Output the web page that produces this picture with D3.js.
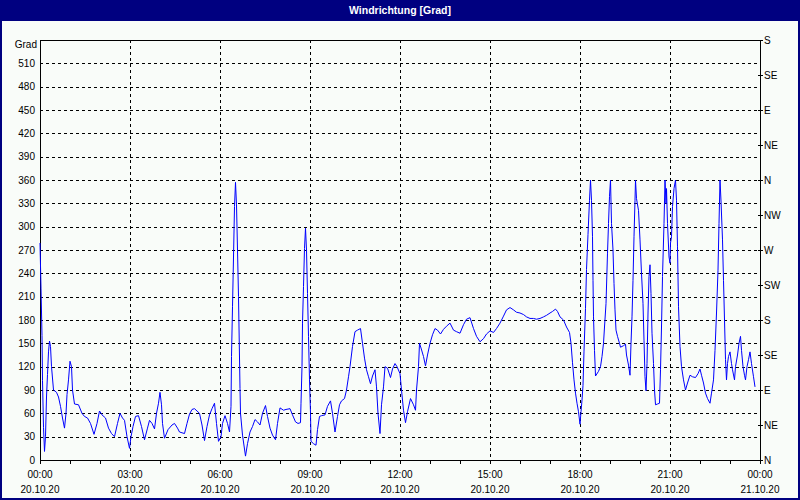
<!DOCTYPE html>
<html><head><meta charset="utf-8">
<script src="https://cdn.jsdelivr.net/npm/d3@7"></script>
<style>
body{margin:0;background:#fff}
svg{display:block}
text{font-family:"Liberation Sans",Arial,sans-serif;font-size:10px;fill:#000}
</style>
</head><body>
<svg id="chart" width="800" height="500"></svg>
<script>
// ---- data ----
const chartTitle = "Windrichtung [Grad]";
const unitLabel = "Grad";
const minutes = [
0,2,4,5,7,9,11,13,15,17,19,21,23,27,33,37,41,45,49,52,54,57,60,63,65,69,77,84,89,95,101,108,114,119,124,131,137,143,149,155,160,165,169,174,179,182,186,191,197,203,209,215,219,224,229,233,237,240,243,245,249,256,264,269,275,279,289,294,299,304,309,319,324,329,334,339,344,349,353,357,
362,365,370,375,379,382,383,385,387,389,391,393,395,397,400,401,405,411,415,420,425,430,435,440,445,451,455,460,465,471,475,480,487,492,500,505,511,516,521,522,524,525,527,529,531,533,535,537,539,541,542,547,552,555,559,563,570,575,581,585,590,595,599,603,609,613,617,620,625,630,635,641,645,649,653,657,661,665,670,673,676,680,683,687,690,695,701,705,710,714,
720,723,727,731,735,741,747,751,753,757,759,762,767,771,775,780,785,790,795,801,807,813,820,827,833,840,847,853,860,867,873,880,887,893,900,907,913,920,927,933,940,947,953,960,967,973,980,987,993,1000,1007,1013,1020,1025,1031,1035,1040,1047,1053,1059,
1062,1065,1068,1071,1074,1077,1080,1082,1084,1086,1088,1091,1093,1096,1099,1101,1103,1105,1106,1107,1109,1111,1117,1121,1124,1127,1129,1132,1135,1137,1139,1141,1143,1146,1148,1150,1152,1155,1159,1161,1167,1171,1173,1177,1180,1182,1184,1186,1188,1190,1191,1193,1197,1200,1203,1206,1208,1210,1212,1214,1216,1218,1220,1222,1224,1227,1229,1231,1235,1239,1241,1243,1245,1248,1250,1252,1253,1255,1258,1260,1261,1263,1265,1268,1271,1273,1275,1277,1280,1283,1287,1291,1295,1300,1305,1311,1316,1320,1323,1327,1331,1335,1340,1343,1347,1350,1353,1356,1358,1360,1362,1365,1367,1369,1371,1373,1375,1377,1380,1383,1385,1389,1391,1395,1398,1401,1403,1406,1409,1411,1414,1417,1420,1423,1427,1430
];
const degrees = [
279,221,160,102,42,11,30,81,110,139,153,146,120,90,87,81,69,54,41,60,84,103,127,120,90,72,71,60,56,54,47,33,47,63,58,54,41,34,30,47,60,54,51,30,15,30,43,56,57,43,26,41,51,47,40,60,73,87,71,47,28,39,45,47,41,36,34,47,59,65,66,60,45,25,43,58,66,73,47,24,
30,47,57,47,36,69,133,197,261,326,357,328,270,210,92,60,32,5,21,36,43,52,49,45,60,70,56,41,32,26,47,67,64,65,66,58,49,47,48,73,120,176,223,272,298,270,214,159,103,60,24,21,19,39,56,57,58,69,76,60,36,56,71,76,79,90,107,120,146,165,167,169,150,131,116,107,98,108,116,94,60,34,71,94,120,118,106,117,124,120,
111,90,64,48,62,79,71,64,90,120,150,144,133,121,135,150,161,169,167,162,168,172,176,167,165,163,174,181,183,169,159,152,156,162,166,164,169,176,185,193,196,193,190,189,187,184,182,182,181,182,184,186,189,191,194,191,184,180,171,164,
150,125,103,86,73,62,46,62,77,96,140,195,245,290,334,360,334,287,231,184,141,108,114,120,133,150,171,201,266,304,339,360,304,270,227,193,167,159,150,145,147,149,135,122,109,150,184,231,287,334,360,336,321,283,240,201,154,107,89,124,189,236,251,214,163,124,90,71,72,73,116,171,236,304,360,330,349,304,261,253,279,287,326,349,360,334,274,197,146,120,103,90,99,109,107,106,111,117,109,99,86,79,73,86,103,141,189,244,304,360,333,283,231,180,129,103,124,133,139,124,116,103,120,135,150,159,141,120,109,103,120,129,139,124,107,94
];
const degreeTicks = [0,30,60,90,120,150,180,210,240,270,300,330,360,390,420,450,480,510];
const compassTicks = [0,45,90,135,180,225,270,315,360,405,450,495,540];
const compassLabels = ["N","NE","E","SE","S","SW","W","NW","N","NE","E","SE","S"];
const timeTicks = [0,180,360,540,720,900,1080,1260,1440];
const timeLabels = ["00:00","03:00","06:00","09:00","12:00","15:00","18:00","21:00","00:00"];
const dateLabels = ["20.10.20","20.10.20","20.10.20","20.10.20","20.10.20","20.10.20","20.10.20","20.10.20","21.10.20"];
const hourTicks = d3.range(0, 1441, 60);

// ---- layout ----
const W = 800, H = 500;
const L = 40, R = 760, T = 40, B = 460;
const navy = "#000080";
const svg = d3.select("#chart");

const x = d3.scaleLinear().domain([0, 1440]).range([L, R]);
const y = d3.scaleLinear().domain([0, 540]).range([B, T]);
const px = v => Math.round(v) + 0.5;

// background
svg.append("rect").attr("x",0).attr("y",0).attr("width",W).attr("height",H).attr("fill","#f9fcf9");
// title bar
svg.append("rect").attr("x",0).attr("y",0).attr("width",W).attr("height",21).attr("fill",navy);
svg.append("text").attr("x",W/2).attr("y",14).attr("text-anchor","middle")
  .style("font-weight","bold").style("font-size","10.5px").style("fill","#fff").text(chartTitle);
// outer border
svg.append("rect").attr("x",1).attr("y",1).attr("width",W-2).attr("height",H-2)
  .attr("fill","none").attr("stroke",navy).attr("stroke-width",2);

const g = svg.append("g");
// horizontal grid
g.selectAll("line.hg").data(degreeTicks.filter(d => d > 0)).join("line")
  .attr("x1",L).attr("x2",R).attr("y1",d=>px(y(d))).attr("y2",d=>px(y(d)))
  .attr("stroke","#000").attr("stroke-dasharray","3,3").attr("shape-rendering","crispEdges");
// vertical grid
g.selectAll("line.vg").data(timeTicks.filter(d => d > 0 && d < 1440)).join("line")
  .attr("y1",T).attr("y2",B).attr("x1",d=>px(x(d))).attr("x2",d=>px(x(d)))
  .attr("stroke","#000").attr("stroke-dasharray","3,3").attr("shape-rendering","crispEdges");

// frame
g.append("rect").attr("x",L+0.5).attr("y",T+0.5).attr("width",R-L).attr("height",B-T)
  .attr("fill","none").attr("stroke","#000").attr("shape-rendering","crispEdges");

// data line
const line = d3.line().x((d,i)=>x(minutes[i])).y(d=>y(d));
g.append("path").datum(degrees).attr("d",line).attr("fill","none")
  .attr("stroke","#0000ff").attr("stroke-width",1);

// left labels
g.selectAll("text.yl").data(degreeTicks).join("text")
  .attr("x",35).attr("y",d=>y(d)+3.5).attr("text-anchor","end").text(d=>d);
g.append("text").attr("x",37).attr("y",48).attr("text-anchor","end").text(unitLabel);

// right ticks & labels
g.selectAll("line.rt").data(compassTicks).join("line")
  .attr("x1",R-2).attr("x2",R+3).attr("y1",d=>px(y(d))).attr("y2",d=>px(y(d)))
  .attr("stroke","#000").attr("shape-rendering","crispEdges");
g.selectAll("text.rl").data(compassTicks).join("text")
  .attr("x",R+4).attr("y",(d)=>y(d)+3.5).text((d,i)=>compassLabels[i]);

// bottom ticks & labels
g.selectAll("line.bt").data(hourTicks).join("line")
  .attr("x1",d=>px(x(d))).attr("x2",d=>px(x(d))).attr("y1",B).attr("y2",B+4)
  .attr("stroke","#000").attr("shape-rendering","crispEdges");
g.selectAll("text.bl").data(timeTicks).join("text")
  .attr("x",d=>x(d)).attr("y",478).attr("text-anchor","middle").text((d,i)=>timeLabels[i]);
g.selectAll("text.bd").data(timeTicks).join("text")
  .attr("x",d=>x(d)).attr("y",493).attr("text-anchor","middle").text((d,i)=>dateLabels[i]);
</script>
</body></html>
